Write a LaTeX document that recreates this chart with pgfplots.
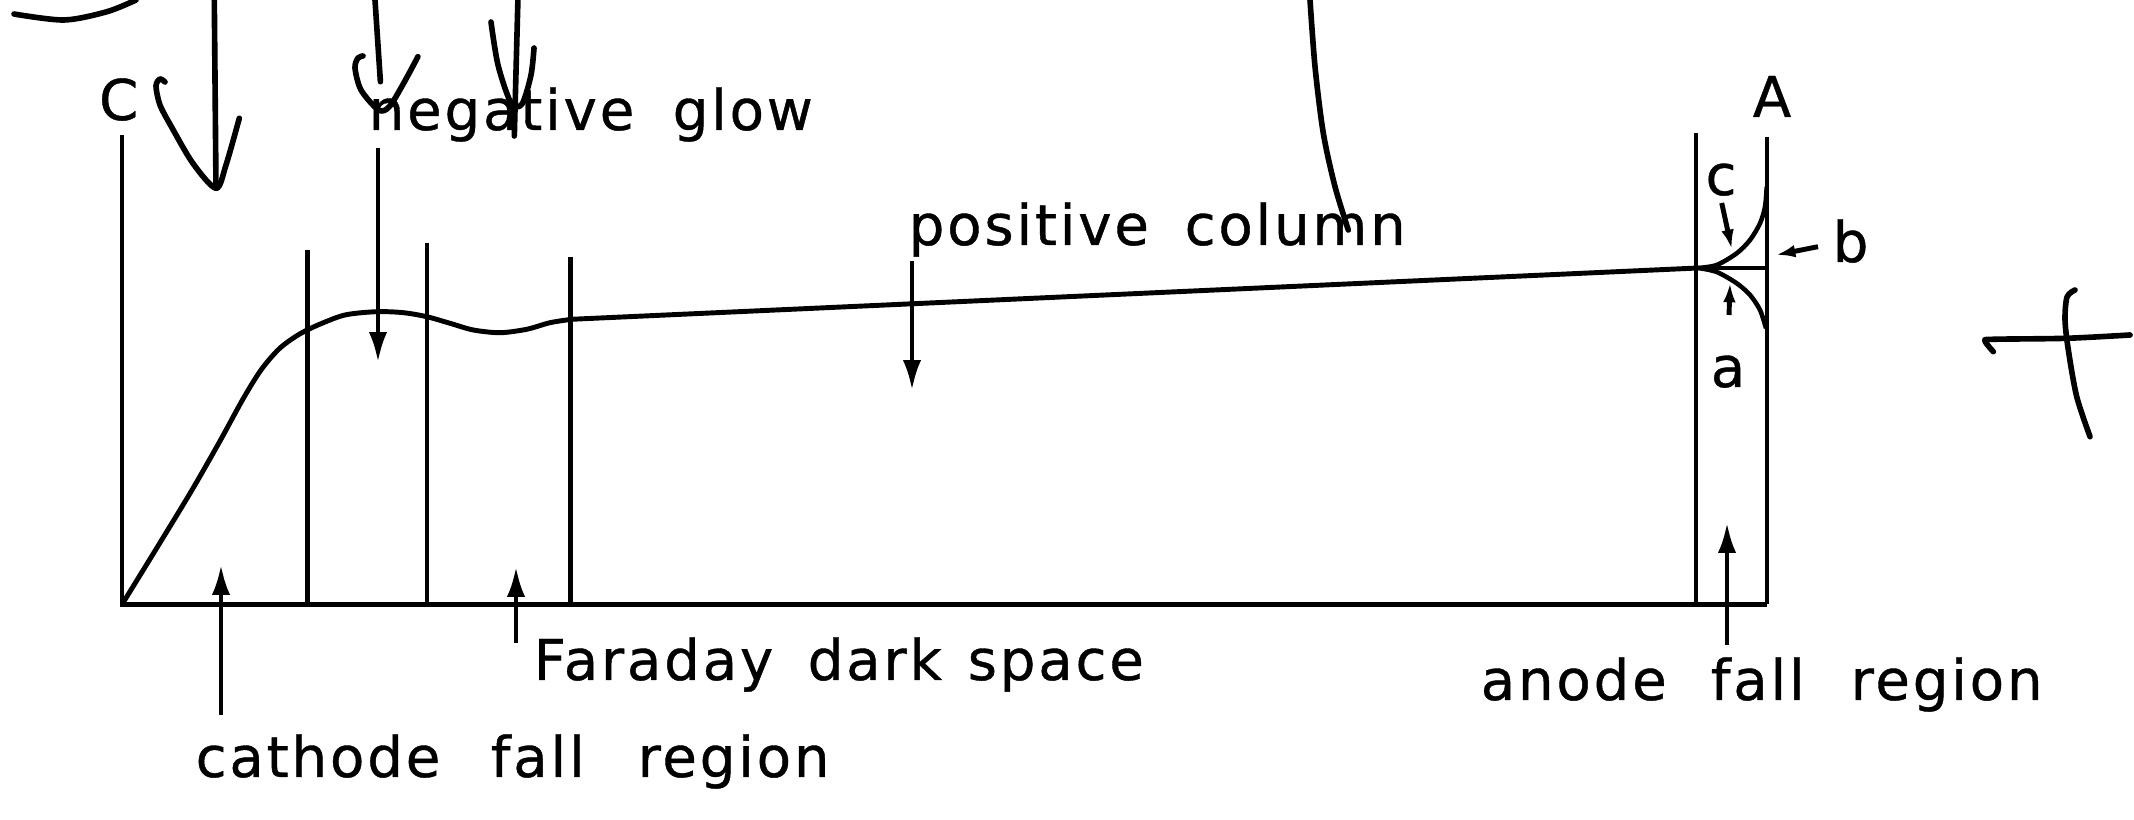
\documentclass[border=0pt]{standalone}
\usepackage{pgfplots}
\pgfplotsset{compat=1.18}
\usepackage{fontspec}
\usetikzlibrary{arrows.meta}
\newfontfamily\lab{DejaVu Sans}[LetterSpace=5, FakeBold=0.7]
\begin{document}
\begin{tikzpicture}[
    lbl/.style={font=\lab\fontsize{16}{19}\selectfont, inner sep=0pt},
    arr/.style={line width=1.15pt, -{Latex[length=8.5pt,width=5.2pt]}},
    sarr/.style={line width=1.4pt, -{Latex[length=5.5pt,width=3.6pt]}},
    scrib/.style={line width=1.6pt, line cap=round, line join=round},
]
\begin{axis}[
    hide axis, scale only axis,
    width=21.34cm, height=8.2cm,
    xmin=0, xmax=2134, ymin=0, ymax=820,
    y dir=reverse, clip=false,
]
% base line and region boundaries
\addplot[line width=1.5pt] coordinates {(120,604.5) (1767,604.5)};
\addplot[line width=1.15pt] coordinates {(122,604.5) (122,135)};
\addplot[line width=1.15pt] coordinates {(307.5,604.5) (307.5,250)};
\addplot[line width=1.15pt] coordinates {(427,604.5) (427,243)};
\addplot[line width=1.15pt] coordinates {(570.5,604.5) (570.5,257)};
\addplot[line width=1.15pt] coordinates {(1696,604.5) (1696,133)};
\addplot[line width=1.15pt] coordinates {(1767,604.5) (1767,137)};

% potential along the discharge
\addplot[line width=1.4pt, smooth, tension=0.5] coordinates {
    (122,604.5) (158,546) (192,490) (220,441) (243,399)
    (261,370) (279,349) (298,335) (318,325) (345,315)
    (376.7,311.7) (403.3,312.7) (426.7,316.7) (450,323.3)
    (473.3,330) (500,332.7) (526.7,329.3) (550,322.7) (571.7,319.3)
};
\addplot[line width=1.4pt] coordinates {(571.7,319.3) (1698,268)};
% anode region: cases a, b, c
\addplot[line width=1.3pt] coordinates {(1698,268) (1767,268)};
\addplot[line width=1.3pt, smooth] coordinates {
    (1698,268) (1716.7,265) (1736.7,253.3) (1750,240) (1760,223.3)
    (1765,206.7) (1766.7,186.7)
};
\addplot[line width=1.3pt, smooth] coordinates {
    (1698,268) (1716.7,272) (1736.7,283.3) (1750,295) (1760,310)
    (1766,328.3)
};

% labels
\node[lbl, anchor=base] at (118.7,120) {C};
\node[lbl, anchor=base] at (1772,117) {A};
\node[lbl, anchor=base west] at (368,130) {negative};
\node[lbl, anchor=base west] at (672,130) {glow};
\node[lbl, anchor=base west] at (908,245) {positive};
\node[lbl, anchor=base west] at (1184,245) {column};
\node[lbl, anchor=base west] at (533,680) {Faraday};
\node[lbl, anchor=base west] at (807,680) {dark};
\node[lbl, anchor=base west] at (967,680) {space};
\node[lbl, anchor=base west] at (195,777) {cathode};
\node[lbl, anchor=base west] at (490,777) {fall};
\node[lbl, anchor=base west] at (637,777) {region};
\node[lbl, anchor=base west] at (1480,700) {anode};
\node[lbl, anchor=base west] at (1710,700) {fall};
\node[lbl, anchor=base west] at (1850,700) {region};
\node[lbl, anchor=base] at (1721,195) {c};
\node[lbl, anchor=base west] at (1832,262) {b};
\node[lbl, anchor=base] at (1728,387) {a};

% pointer arrows
\draw[arr] (378,148) -- (378,362);
\draw[arr] (912,261) -- (912,390);
\draw[arr] (221,715) -- (221,565);
\draw[arr] (516,643) -- (516,567);
\draw[arr] (1727,645) -- (1727,523);
\draw[sarr] (1721.7,203) -- (1731.7,249);
\draw[sarr] (1818,246.7) -- (1776,255);
\draw[sarr] (1729,315) -- (1730,283);

% hand-drawn strokes over the figure
\addplot[scrib, smooth] coordinates {(14,14) (64,20) (107,11.7) (136,0)};
\addplot[scrib] coordinates {(214.3,0) (216,188.3)};
\addplot[scrib, smooth] coordinates {
    (165,82) (160,79) (156,86) (160,105) (171.4,126.7) (192.9,163.3)
    (216,188.3) (226,165) (239.3,118.3)};
\addplot[scrib] coordinates {(375,0) (380.4,81.7)};
\addplot[scrib, smooth] coordinates {
    (363,56) (358,58) (355,68) (361,90) (378.6,110) (389.3,106.7)
    (403.6,83.3) (417.9,56.7)};
\addplot[scrib] coordinates {(517.9,0) (514.3,136)};
\addplot[scrib, smooth] coordinates {
    (491,22) (498,65) (511,103) (522,104) (531,75) (534,48)};
\addplot[scrib, smooth] coordinates {
    (1310,0) (1315,66.7) (1323.3,133.3) (1335,186.7) (1348.3,230)};
\addplot[scrib, smooth] coordinates {
    (1993.3,351.7) (1985,341) (1993.3,339.3) (2066.7,338.3) (2130,335)};
\addplot[scrib, smooth] coordinates {
    (2075,290) (2067,297) (2065,320) (2068.3,350) (2076.7,396.7) (2090,436.7)};
\end{axis}
\pgfresetboundingbox
\path (current axis.south west) rectangle (current axis.north east);
\end{tikzpicture}
\end{document}
